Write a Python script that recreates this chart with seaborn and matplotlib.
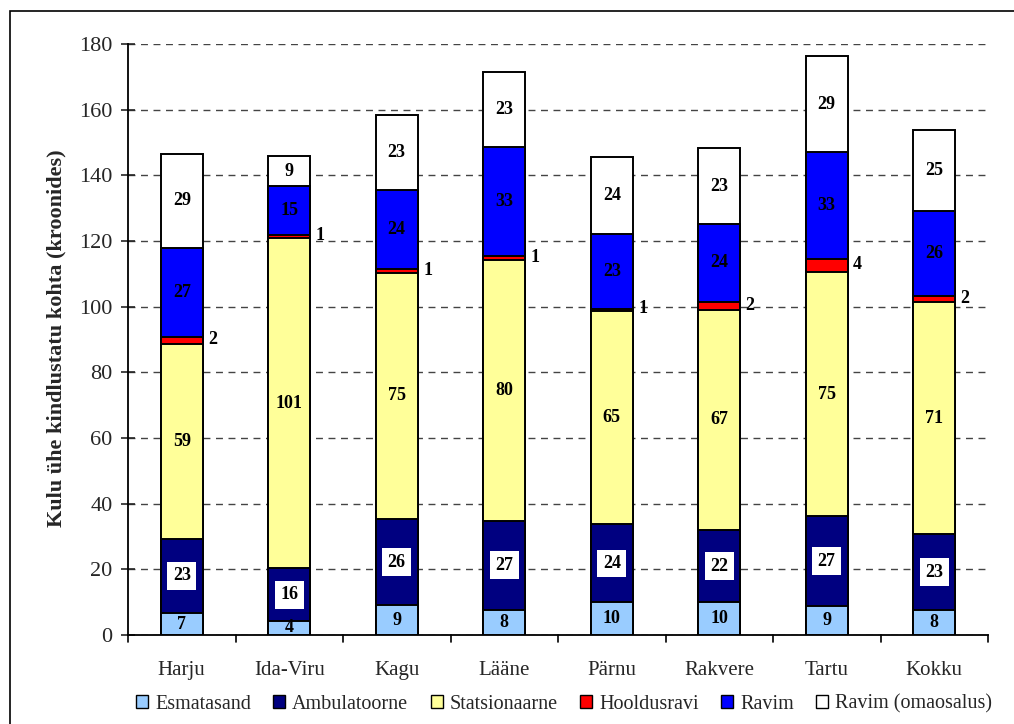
import matplotlib
matplotlib.use("Agg")
import matplotlib.pyplot as plt
import matplotlib.patches as mpatches
import seaborn as sns
import numpy as np
import pandas as pd

categories = ["Harju", "Ida-Viru", "Kagu", "Lääne", "Pärnu", "Rakvere", "Tartu", "Kokku"]
series_names = ["Esmatasand", "Ambulatoorne", "Statsionaarne", "Hooldusravi", "Ravim", "Ravim (omaosalus)"]
esmatasand = [6.7, 4.3, 9.0, 7.7, 9.9, 9.9, 8.8, 7.6]
ambulatoorne = [22.6, 16.0, 26.4, 27.0, 23.8, 22.2, 27.3, 23.1]
statsionaarne = [59.4, 100.6, 74.9, 79.6, 64.9, 66.9, 74.6, 70.6]
hooldusravi = [2.0, 1.0, 1.1, 1.0, 0.8, 2.3, 3.8, 2.0]
ravim = [27.3, 14.8, 24.1, 33.2, 22.6, 24.0, 32.7, 25.9]
ravim_omaosalus = [28.6, 9.2, 23.0, 23.0, 23.6, 22.9, 29.0, 24.6]
colors = ["#99CCFF", "#000080", "#FFFF99", "#FF0000", "#0000FF", "#FFFFFF"]

series = [esmatasand, ambulatoorne, statsionaarne, hooldusravi, ravim, ravim_omaosalus]
vals = np.array(series)
cum = np.cumsum(vals, axis=0)

sns.set_theme(style="white")
plt.rcParams["font.family"] = ["Liberation Serif", "DejaVu Serif"]

fig = plt.figure(figsize=(10.14, 7.24), dpi=100)
ax = fig.add_axes([128/1014, 1-635/724, 860/1014, 591/724])

bw = 0.39
for k in range(len(series) - 1, -1, -1):
    df = pd.DataFrame({"cat": categories, "val": cum[k]})
    sns.barplot(data=df, x="cat", y="val", color=colors[k], width=bw,
                edgecolor="black", linewidth=1.4, saturation=1, ax=ax, zorder=3)

# labels
for i in range(len(categories)):
    for k in range(len(series)):
        v = vals[k, i]
        bottom = cum[k, i] - v
        mid = bottom + v / 2
        txt = f"{int(round(v))}"
        if k == 3:
            ax.text(i + bw/2 + 0.05, mid + 0.3, txt, ha="left", va="center",
                    fontsize=13, fontweight="bold", color="black", zorder=6)
        elif k == 1:
            ax.text(i, mid, txt, ha="center", va="center", fontsize=13,
                    fontweight="bold", color="black", zorder=6,
                    bbox=dict(boxstyle="square,pad=0.3", facecolor="white", edgecolor="none"))
        else:
            ax.text(i, mid, txt, ha="center", va="center", fontsize=13,
                    fontweight="bold", color="black", zorder=6)

ax.set_ylim(0, 180)
ax.set_xlim(-0.5, len(categories) - 0.5)
ax.set_yticks(np.arange(0, 181, 20))
ax.yaxis.grid(True, linestyle=(0, (5, 4)), color="#444444", linewidth=1.0, zorder=0)
ax.xaxis.grid(False)
ax.set_axisbelow(True)

ax.set_xticks(np.arange(len(categories)))
ax.set_xticklabels(categories, fontsize=15)
ax.tick_params(axis="x", length=0, pad=19)
for b in np.arange(-0.5, len(categories), 1.0):
    ax.plot([b, b], [0, -2.2], color="black", lw=1.2, clip_on=False, zorder=5)
ax.tick_params(axis="y", direction="inout", length=10, width=1.2, labelsize=16, pad=6, left=True)

for s in ["top", "right"]:
    ax.spines[s].set_visible(False)
for s in ["left", "bottom"]:
    ax.spines[s].set_visible(True)
    ax.spines[s].set_color("black")
    ax.spines[s].set_linewidth(1.3)

ax.set_xlabel("")
ax.set_ylabel("")
fig.text(56/1014, 1-338/724, "Kulu ühe kindlustatu kohta (kroonides)", rotation=90,
         ha="center", va="center", fontsize=16, fontweight="bold")

handles = [mpatches.Patch(facecolor=c, edgecolor="black", linewidth=1.0, label=n)
           for c, n in zip(colors, series_names)]
fig.legend(handles=handles, loc="center", bbox_to_anchor=(564/1014, 1-704/724), ncol=6,
           frameon=False, fontsize=14.5, handlelength=0.6, handleheight=0.6,
           handletextpad=0.35, columnspacing=1.1, borderaxespad=0)

fig.patches.append(mpatches.Rectangle((10/1014, -0.01), 1.02, 1-11/724 + 0.01,
                                      transform=fig.transFigure, fill=False,
                                      edgecolor="black", linewidth=1.2))

fig.savefig("out.png", dpi=100)
